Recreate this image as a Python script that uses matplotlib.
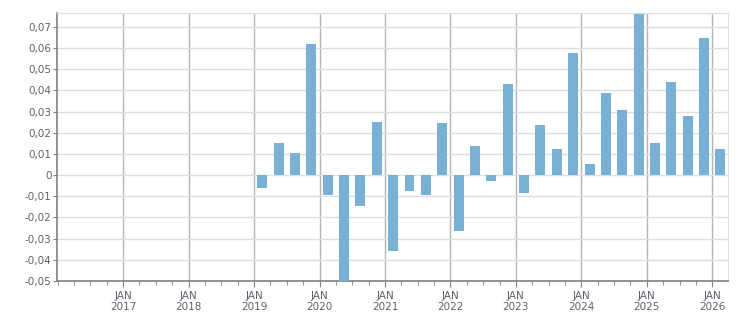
import numpy as np
import matplotlib.pyplot as plt
from matplotlib.ticker import MultipleLocator, FixedLocator

# quarterly values, 2019 Q1 .. 2026 Q1
quarters = [f"{y}Q{q}" for y in range(2019, 2027) for q in range(1, 5)][:29]
values = [-0.0062, 0.0152, 0.0104, 0.0617,
          -0.0095, -0.0503, -0.0147, 0.0252,
          -0.0359, -0.0076, -0.0095, 0.0247,
          -0.0266, 0.0138, -0.0028, 0.0432,
          -0.0085, 0.0237, 0.0123, 0.0574,
          0.0052, 0.0389, 0.0309, 0.0759,
          0.0152, 0.0437, 0.0280, 0.0646,
          0.0123]
years = list(range(2017, 2027))
y_ticks = [-0.05, -0.04, -0.03, -0.02, -0.01, 0, 0.01, 0.02, 0.03, 0.04, 0.05, 0.06, 0.07]

# bar centre = middle of the quarter, as a decimal year
xpos = [int(q[:4]) + (int(q[-1]) - 1) * 0.25 + 0.125 for q in quarters]

txt = "#5f5f72"
fig = plt.figure(figsize=(7.51, 3.13), dpi=100)
ax = fig.add_axes([57 / 751, 1 - 281 / 313, (728 - 57) / 751, (281 - 13) / 313])

ax.bar(xpos, values, width=0.152, color="#78b1d3", zorder=3)

ax.set_xlim(2015.99, 2026.24)
ax.set_ylim(-0.05, 0.0765)

ax.set_yticks(y_ticks)
ax.set_yticklabels([("0" if v == 0 else f"{v:.2f}".replace(".", ",")) for v in y_ticks])
ax.xaxis.set_major_locator(FixedLocator(years))
ax.set_xticklabels([f"JAN\n{y}" for y in years])
ax.xaxis.set_minor_locator(MultipleLocator(0.25))

ax.grid(axis="y", color="#dedede", linewidth=1, zorder=0)
ax.grid(axis="x", which="major", color="#b4b4b4", linewidth=1, zorder=1)

for s in ["top", "right"]:
    ax.spines[s].set_color("#dedede")
for s in ["left", "bottom"]:
    ax.spines[s].set_color("#808080")
    ax.spines[s].set_linewidth(1.2)

ax.tick_params(axis="y", length=3, color="#808080", labelsize=7.5, labelcolor=txt, pad=1)
ax.tick_params(axis="x", which="major", length=4, color="#808080", labelsize=7.5, labelcolor=txt, pad=3)
ax.tick_params(axis="x", which="minor", length=3, color="#808080")

fig.savefig("out.png", dpi=100)
